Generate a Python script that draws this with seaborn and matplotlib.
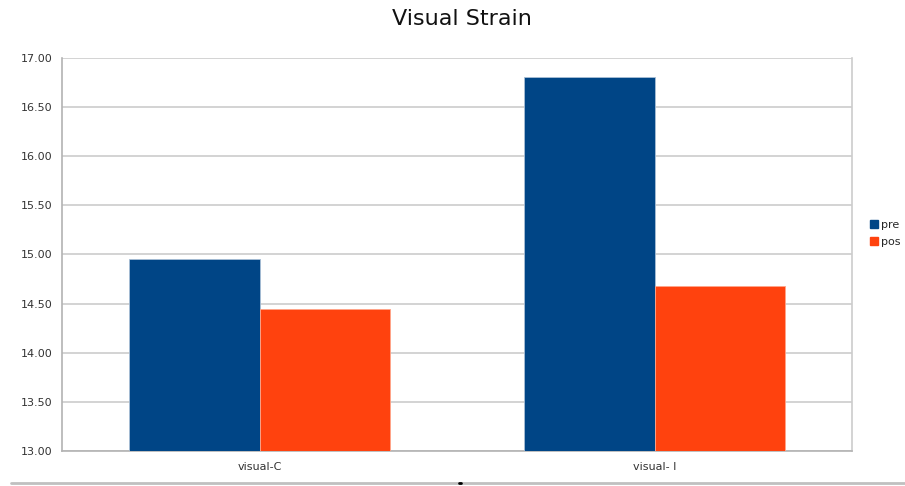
import pandas as pd
import matplotlib.pyplot as plt
import seaborn as sns
from matplotlib.lines import Line2D
from matplotlib.patches import Patch

categories = ['visual-C', 'visual- I']
series = ['pre', 'pos']
pre_values = [14.95, 16.81]
pos_values = [14.45, 14.68]

df = pd.DataFrame({
    'category': categories * 2,
    'series': ['pre'] * 2 + ['pos'] * 2,
    'value': pre_values + pos_values,
})

colors = ['#004586', '#ff420e']

sns.set_style('white')
plt.rcParams['font.family'] = ['DejaVu Sans']

fig = plt.figure(figsize=(9.05, 4.86), dpi=100)
ax = fig.add_axes([0.0685, 0.072, 0.873, 0.8087])

sns.barplot(data=df, x='category', y='value', hue='series', hue_order=series,
            palette=colors, saturation=1, width=0.663, dodge=True, ax=ax,
            edgecolor='#a9bfd6', linewidth=0.6, legend=False, zorder=3)
for bar in ax.patches[2:]:
    bar.set_edgecolor('#ffa58a')

ax.set_ylim(13, 17)
ax.set_xlim(-0.5, 1.5)
ax.set_yticks([13 + 0.5 * i for i in range(9)])
ax.set_yticklabels([f'{13 + 0.5 * i:.2f}' for i in range(9)], fontsize=8, color='#333333')
ax.set_xticks([0, 1])
ax.set_xticklabels(categories, fontsize=8, color='#333333')
ax.set_xticks([-0.5, 0.5, 1.5], minor=True)
ax.tick_params(axis='x', which='major', length=0, pad=8)
ax.tick_params(axis='x', which='minor', length=5, color='#b3b3b3', width=1)
ax.tick_params(axis='y', length=5, color='#b3b3b3', width=1, pad=2)
ax.set_xlabel('')
ax.set_ylabel('')

ax.yaxis.grid(True, color='#cccccc', linewidth=1.2, zorder=0)
ax.set_axisbelow(True)
for side in ['left', 'right', 'top', 'bottom']:
    ax.spines[side].set_color('#b3b3b3')
    ax.spines[side].set_linewidth(1.2)
ax.spines['top'].set_visible(False)
ax.spines['right'].set_color('#cccccc')

fig.text(0.5105, 0.961, 'Visual Strain', ha='center', va='center', fontsize=16, color='#111111')

handles = [Patch(facecolor=c, edgecolor=c, label=s) for c, s in zip(colors, series)]
fig.legend(handles=handles, loc='center left', bbox_to_anchor=(0.955, 0.52),
           frameon=False, fontsize=8, handlelength=0.7, handleheight=0.7,
           handletextpad=0.3, labelspacing=0.6, borderpad=0)

fig.add_artist(Line2D([0.012, 1.0], [0.007, 0.007], color='#c0c0c0', linewidth=2))
fig.add_artist(Line2D([0.507, 0.509], [0.007, 0.007], color='black', linewidth=2))

fig.savefig('out.png', dpi=100)
